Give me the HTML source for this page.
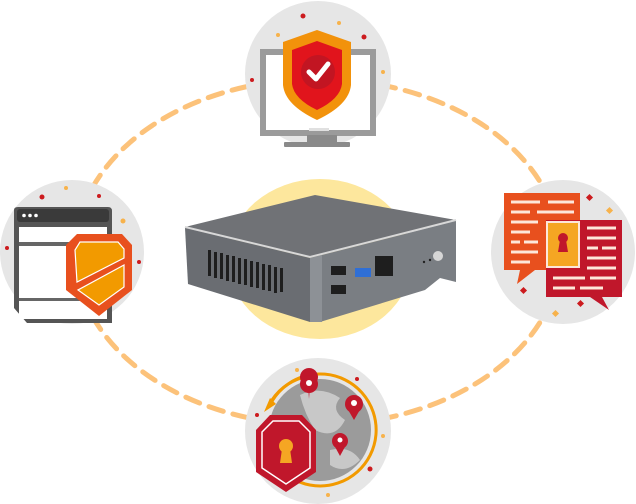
<!DOCTYPE html>
<html><head><meta charset="utf-8"><style>
html,body{margin:0;padding:0;background:#fff;width:636px;height:504px;overflow:hidden}
svg{display:block}
</style></head><body>
<svg width="636" height="504" viewBox="0 0 636 504" xmlns="http://www.w3.org/2000/svg">
<!-- dashed ring -->
<ellipse cx="318" cy="252" rx="243" ry="173" fill="none" stroke="#fcc27a" stroke-width="5" stroke-dasharray="15 10" stroke-linecap="round"/>
<!-- yellow glow -->
<ellipse cx="320" cy="259" rx="92" ry="80" fill="#fde79d"/>
<!-- icon circles -->
<circle cx="318" cy="74" r="73" fill="#e6e6e6"/>
<circle cx="72" cy="252" r="72" fill="#e6e6e6"/>
<circle cx="563" cy="252" r="72" fill="#e6e6e6"/>
<circle cx="318" cy="431" r="73" fill="#e6e6e6"/>

<!-- device -->
<polygon points="185,227 315,195 456,220 310,257" fill="#707276"/>
<polyline points="185,227 310,257 456,220" fill="none" stroke="#d8d8d8" stroke-width="2"/>
<polygon points="185,228 310,258 310,322 188,284" fill="#6a6d72"/>
<polygon points="310,258 456,221 456,282 440,278 425,290 320,322 310,322" fill="#7a7e83"/>
<polygon points="310,258 322,255 322,322 310,322" fill="#8d9196"/>
<g fill="#1e1e1e">
<rect x="208" y="250" width="3" height="26"/><rect x="214" y="252" width="3" height="26"/><rect x="220" y="253" width="3" height="26"/><rect x="226" y="255" width="3" height="26"/><rect x="232" y="256" width="3" height="26"/><rect x="238" y="258" width="3" height="26"/><rect x="244" y="259" width="3" height="26"/><rect x="250" y="261" width="3" height="26"/><rect x="256" y="262" width="3" height="26"/><rect x="262" y="264" width="3" height="26"/><rect x="268" y="265" width="3" height="26"/><rect x="274" y="267" width="3" height="26"/><rect x="280" y="268" width="3" height="24"/>
<rect x="331" y="266" width="15" height="9"/><rect x="331" y="285" width="15" height="9"/>
<rect x="375" y="256" width="18" height="20"/>
</g>
<rect x="355" y="268" width="16" height="9" fill="#2f6fd6"/>
<circle cx="438" cy="256" r="5" fill="#d6d6d6"/>
<circle cx="424" cy="262" r="1.2" fill="#222"/><circle cx="430" cy="260" r="1.2" fill="#222"/>

<!-- top icon: monitor + shield -->
<rect x="263" y="52" width="110" height="81" fill="#fff" stroke="#9b9b9b" stroke-width="6"/>
<rect x="309" y="128" width="20" height="3" fill="#e0e0e0"/>
<rect x="307" y="135" width="30" height="8" fill="#8a8a8a"/>
<rect x="284" y="142" width="66" height="5" rx="1" fill="#8a8a8a"/>
<path d="M317,30 L351,42 L351,85 Q349,105 317,120 Q285,105 283,85 L283,42 Z" fill="#f2920b"/>
<path d="M317,41 L342,50 L342,84 Q340,99 317,110 Q294,99 292,84 L292,50 Z" fill="#e1141c"/>
<circle cx="318" cy="72" r="17" fill="#c21522"/>
<path d="M309,72 L316,79 L328,64" fill="none" stroke="#fff" stroke-width="5" stroke-linecap="round" stroke-linejoin="round"/>
<g fill="#cc1b1e"><circle cx="303" cy="16" r="2.5"/><circle cx="364" cy="37" r="2.5"/><circle cx="252" cy="80" r="2"/></g>
<g fill="#f7b24b"><circle cx="339" cy="23" r="2"/><circle cx="278" cy="35" r="2"/><circle cx="383" cy="72" r="2"/></g>

<!-- left icon: browser + shield -->
<path d="M14,210 Q14,207 18,207 L108,207 Q112,207 112,211 L112,323 L27,323 L14,308 Z" fill="#555"/>
<rect x="19" y="227" width="88" height="92" fill="#fff"/>
<rect x="19" y="242" width="88" height="4" fill="#666"/>
<rect x="19" y="298" width="88" height="3" fill="#666"/>
<rect x="17" y="209" width="92" height="13" rx="3" fill="#3a3a3a"/>
<circle cx="24" cy="215.5" r="1.8" fill="#fff"/><circle cx="30" cy="215.5" r="1.8" fill="#fff"/><circle cx="36" cy="215.5" r="1.8" fill="#fff"/>
<path d="M77,234 L122,234 L132,245 L132,290 L99,316 L66,290 L66,245 Z" fill="#e8501e"/>
<path d="M80,242 L118,242 L124,249 L124,258 L77,282 L75,250 Z" fill="#f29a00" stroke="#fff" stroke-width="1.2"/>
<path d="M124,265 L124,287 L99,305 L78,290 Z" fill="#f29a00" stroke="#fff" stroke-width="1.2"/>
<g fill="#cc1b1e"><circle cx="42" cy="197" r="2.5"/><circle cx="99" cy="196" r="2"/><circle cx="7" cy="248" r="2"/><circle cx="139" cy="262" r="2"/></g>
<g fill="#f7b24b"><circle cx="66" cy="188" r="2"/><circle cx="123" cy="221" r="2.5"/></g>

<!-- right icon: chat bubbles -->
<path d="M504,193 L580,193 L580,270 L535,270 L517,284 L520,270 L504,270 Z" fill="#e8501e"/>
<path d="M546,220 L622,220 L622,297 L602,297 L609,310 L590,297 L546,297 Z" fill="#c0172b"/>
<g stroke="#fde7da" stroke-width="3">
<line x1="511" y1="202" x2="540" y2="202"/><line x1="548" y1="202" x2="574" y2="202"/>
<line x1="511" y1="212" x2="530" y2="212"/><line x1="537" y1="212" x2="574" y2="212"/>
<line x1="511" y1="222" x2="538" y2="222"/><line x1="511" y1="232" x2="530" y2="232"/>
<line x1="511" y1="242" x2="520" y2="242"/><line x1="524" y1="242" x2="538" y2="242"/>
<line x1="511" y1="252" x2="538" y2="252"/><line x1="511" y1="262" x2="530" y2="262"/>
<line x1="587" y1="228" x2="616" y2="228"/><line x1="587" y1="238" x2="616" y2="238"/>
<line x1="587" y1="248" x2="598" y2="248"/><line x1="602" y1="248" x2="616" y2="248"/>
<line x1="587" y1="258" x2="616" y2="258"/><line x1="587" y1="268" x2="616" y2="268"/>
<line x1="553" y1="278" x2="585" y2="278"/><line x1="590" y1="278" x2="616" y2="278"/>
<line x1="553" y1="288" x2="575" y2="288"/><line x1="580" y1="288" x2="603" y2="288"/>
</g>
<rect x="547" y="222" width="32" height="45" fill="#f5a623" stroke="#fde7da" stroke-width="2"/>
<circle cx="563" cy="238" r="5" fill="#c0172b"/><path d="M560,240 L566,240 L568,252 L558,252 Z" fill="#c0172b"/>
<g fill="#cc1b1e"><rect x="587" y="195" width="5" height="5" transform="rotate(45 589.5 197.5)"/><rect x="521" y="288" width="5" height="5" transform="rotate(45 523.5 290.5)"/><rect x="578" y="301" width="5" height="5" transform="rotate(45 580.5 303.5)"/></g>
<g fill="#f7b24b"><rect x="607" y="208" width="5" height="5" transform="rotate(45 609.5 210.5)"/><rect x="553" y="311" width="5" height="5" transform="rotate(45 555.5 313.5)"/></g>

<!-- bottom icon: globe + shield -->
<circle cx="320" cy="430" r="51" fill="#9b9b9b"/>
<path d="M300,395 Q320,385 340,398 Q330,410 345,420 Q335,440 315,430 Q305,415 300,395 Z" fill="#c8c8c8"/>
<path d="M330,450 Q350,445 360,460 Q345,475 330,465 Z" fill="#c8c8c8"/>
<path d="M270,405 A56,56 0 1 1 295,480" fill="none" stroke="#f29a00" stroke-width="3"/>
<path d="M272,400 A55,55 0 0 1 310,376" fill="none" stroke="#f29a00" stroke-width="3"/>
<polygon points="264,412 276,404 270,398" fill="#f29a00"/>
<path d="M256,430 L270,415 L302,415 L316,430 L316,472 L286,492 L256,472 Z" fill="#c0172b"/>
<path d="M262,432 L273,421 L299,421 L310,432 L310,468 L286,484 L262,468 Z" fill="none" stroke="#fff" stroke-width="1.5"/>
<circle cx="286" cy="446" r="7" fill="#f5a623"/><path d="M282,449 L290,449 L292,463 L280,463 Z" fill="#f5a623"/>
<g fill="#c0172b">
<path d="M308,386 A9,9 0 1 1 310,386 L309,399 Z"/><circle cx="309" cy="384" r="9"/>
<circle cx="354" cy="404" r="9"/><path d="M347,408 L361,408 L354,420 Z"/>
<circle cx="340" cy="441" r="8"/><path d="M334,445 L346,445 L340,456 Z"/>
</g>
<g fill="#fff"><circle cx="309" cy="383" r="3"/><circle cx="354" cy="403" r="3"/><circle cx="340" cy="440" r="2.5"/></g>
<g fill="#cc1b1e"><circle cx="357" cy="379" r="2"/><circle cx="257" cy="415" r="2"/><circle cx="370" cy="469" r="2.5"/></g>
<g fill="#f7b24b"><circle cx="297" cy="370" r="2"/><circle cx="383" cy="436" r="2"/><circle cx="328" cy="495" r="2"/></g>
</svg>
</body></html>
